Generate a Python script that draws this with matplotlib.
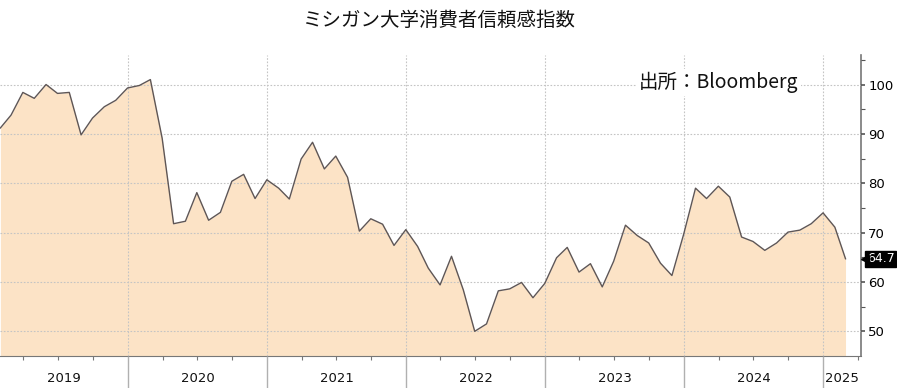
import numpy as np
import pandas as pd
import matplotlib
matplotlib.use("Agg")
import matplotlib.pyplot as plt
import matplotlib.dates as mdates
import matplotlib.transforms as mtransforms

plt.rcParams['font.family'] = ['Noto Sans CJK JP', 'DejaVu Sans']

# ミシガン大学消費者信頼感指数 (月次, 2019/01 - 2025/02)
start_month = '2019-01'
values = [
    91.2, 93.8, 98.4, 97.2, 100.0, 98.2, 98.4, 89.8, 93.2, 95.5, 96.8, 99.3,   # 2019
    99.8, 101.0, 89.1, 71.8, 72.3, 78.1, 72.5, 74.1, 80.4, 81.8, 76.9, 80.7,   # 2020
    79.0, 76.8, 84.9, 88.3, 82.9, 85.5, 81.2, 70.3, 72.8, 71.7, 67.4, 70.6,    # 2021
    67.2, 62.8, 59.4, 65.2, 58.4, 50.0, 51.5, 58.2, 58.6, 59.9, 56.8, 59.7,    # 2022
    64.9, 67.0, 62.0, 63.7, 59.0, 64.2, 71.5, 69.4, 67.9, 63.8, 61.3, 69.7,    # 2023
    79.0, 76.9, 79.4, 77.2, 69.1, 68.2, 66.4, 67.9, 70.1, 70.5, 71.8, 74.0,    # 2024
    71.1, 64.7,                                                                # 2025
]
years = ['2019', '2020', '2021', '2022', '2023', '2024', '2025']
y_ticks = [50, 60, 70, 80, 90, 100]

title = 'ミシガン大学消費者信頼感指数'
source = '出所：Bloomberg'

# 月末に点を置く
dates = pd.date_range(start_month, periods=len(values), freq='ME')

fig = plt.figure(figsize=(8.97, 3.88), dpi=100)
ax = fig.add_axes([0.0, 0.0825, 0.960, 0.776])

x_left = pd.Timestamp('2019-01-30')
x_right = pd.Timestamp('2025-04-10')
y_min, y_max = 45, 106

ax.fill_between(dates, values, y_min, color='#fce3c6', linewidth=0, zorder=1)
ax.plot(dates, values, color='#5e5656', linewidth=1.0, zorder=3)

ax.set_xlim(x_left, x_right)
ax.set_ylim(y_min, y_max)

# 軸
for side in ['left', 'top']:
    ax.spines[side].set_visible(False)
ax.spines['right'].set_color('#777777')
ax.spines['bottom'].set_color('#777777')
ax.spines['right'].set_linewidth(1.2)

ax.yaxis.tick_right()
ax.set_yticks(y_ticks)
ax.set_yticks(np.arange(55, 106, 10), minor=True)
ax.tick_params(axis='y', which='major', direction='out', length=3, width=1.2,
               color='#555555', labelsize=9.5, pad=2)
ax.tick_params(axis='y', which='minor', direction='out', length=3, width=0.8,
               color='#555555')
for lbl in ax.get_yticklabels():
    lbl.set_family('DejaVu Sans')

ax.xaxis.set_major_locator(mdates.YearLocator())
ax.xaxis.set_minor_locator(mdates.MonthLocator(bymonth=[4, 7, 10]))
ax.xaxis.set_major_formatter(plt.NullFormatter())
ax.tick_params(axis='x', which='major', direction='out', length=23, width=1.0,
               color='#b0b0b0')
ax.tick_params(axis='x', which='minor', direction='out', length=3, width=0.8,
               color='#777777')

ax.grid(True, which='major', axis='both', linestyle=(0, (1.5, 1.5)),
        color='#c4c4c4', linewidth=0.8, zorder=2)
ax.set_axisbelow(False)

# 年ラベル (表示範囲の中央)
trans_x = mtransforms.blended_transform_factory(ax.transData, ax.transAxes)
for yr in years:
    a = max(pd.Timestamp(f'{yr}-01-01'), x_left)
    b = min(pd.Timestamp(f'{int(yr) + 1}-01-01'), x_right)
    mid = mdates.date2num(a) + (mdates.date2num(b) - mdates.date2num(a)) / 2
    ax.text(mid, -0.075, yr, transform=trans_x, ha='center', va='center',
            fontsize=9.5, family='DejaVu Sans', color='#111111')

# 最新値ラベル (黒い矢印付きボックス)
trans_y = mtransforms.blended_transform_factory(ax.transAxes, ax.transData)
ax.text(1.0065, values[-1], f'{values[-1]:.1f}', transform=trans_y,
        ha='left', va='center', fontsize=9, family='DejaVu Sans', color='white',
        bbox=dict(boxstyle='square,pad=0.12', facecolor='black', edgecolor='black'),
        clip_on=False, zorder=5)
ax.plot([1.0046], [values[-1]], marker='<', markersize=6, color='black',
        transform=trans_y, clip_on=False, zorder=5)

fig.text(0.49, 0.948, title, ha='center', va='center', fontsize=14, color='#111111')
ax.text(0.834, 0.908, source, transform=ax.transAxes, ha='center', va='center',
        fontsize=14, color='#111111', zorder=6,
        bbox=dict(facecolor='white', edgecolor='none', pad=2))

fig.savefig('out.png', dpi=100)
